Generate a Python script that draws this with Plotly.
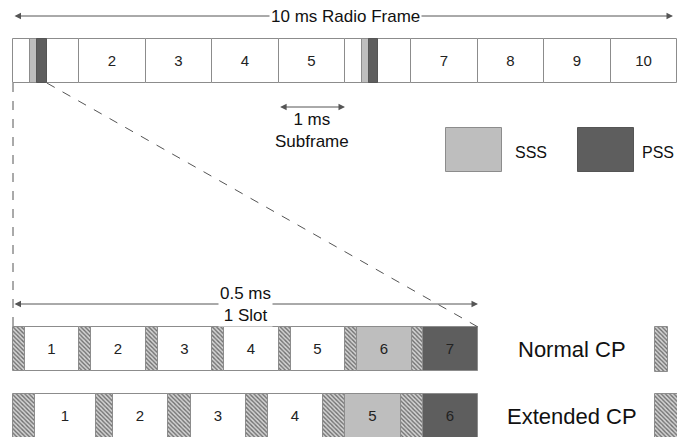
import plotly.graph_objects as go

# ---------------- data ----------------
subframe_start_ms = [0, 1, 2, 3, 4, 5, 6, 7, 8, 9]
subframe_len_ms = [1, 1, 1, 1, 1, 1, 1, 1, 1, 1]
subframe_labels = ["", "2", "3", "4", "5", "", "7", "8", "9", "10"]
sss_start_ms = [0.25, 5.25]
sss_len_ms = [0.11, 0.11]
pss_start_ms = [0.36, 5.36]
pss_len_ms = [0.15, 0.14]

normal_cp_start_us = [0, 71, 143, 214, 286, 357, 429]
normal_cp_len_us = [13, 13, 13, 13, 13, 13, 12]
normal_sym_end_us = [71, 143, 214, 286, 357, 429, 500]
normal_labels = ["1", "2", "3", "4", "5", "6", "7"]
normal_kind = ["data", "data", "data", "data", "data", "sss", "pss"]

ext_cp_start_us = [0, 89, 167, 250, 333, 417]
ext_cp_len_us = [24, 18, 24, 24, 24, 24]
ext_sym_end_us = [89, 167, 250, 333, 417, 500]
ext_labels = ["1", "2", "3", "4", "5", "6"]
ext_kind = ["data", "data", "data", "data", "sss", "pss"]

legend_labels = ["SSS", "PSS"]
legend_start_ms = [6.52, 8.51]
legend_len_ms = [0.84, 0.84]

# ---------------- style ----------------
FONT = "Liberation Sans, Arial, sans-serif"
EDGE = "#8c8c8c"
SSS_C = "#bebebe"
PSS_C = "#5e5e5e"
FILL = {"data": "white", "sss": SSS_C, "pss": PSS_C}
XR1 = [-13 / 66.4, 664 / 66.4]          # ms axis
XR2 = [-13 / 0.93, 664 / 0.93]          # microsecond axis
Y_TOP, Y_LEG, Y_NORM, Y_EXT = 61, 150, 349, 416
H = 44

def p1(v):
    return (v - XR1[0]) / (XR1[1] - XR1[0])

def p2(v):
    return (v - XR2[0]) / (XR2[1] - XR2[0])

fig = go.Figure()

def hbar(starts, lens, y, colors, xaxis="x", texts=None, pattern=None, lc=EDGE, width=H):
    fig.add_trace(go.Bar(
        orientation="h", base=starts, x=lens, y=[y] * len(starts), width=width,
        xaxis=xaxis, yaxis="y",
        marker=dict(color=colors, line=dict(color=lc, width=1),
                    pattern=pattern if pattern else dict(shape="")),
        text=texts, textposition="inside" if texts else "none",
        insidetextanchor="middle", textangle=0,
        textfont=dict(family=FONT, size=15, color="#222"),
        hoverinfo="skip", showlegend=False))

HATCH = dict(shape="\\", fgcolor="#6f6f6f", bgcolor="#d4d4d4", size=3, solidity=0.45, fillmode="replace")

# top radio frame
hbar(subframe_start_ms, subframe_len_ms, Y_TOP, "white", texts=subframe_labels)
hbar(sss_start_ms, sss_len_ms, Y_TOP, SSS_C)
hbar(pss_start_ms, pss_len_ms, Y_TOP, PSS_C, lc="#555")
# legend boxes
hbar(legend_start_ms[:1], legend_len_ms[:1], Y_LEG, SSS_C)
hbar(legend_start_ms[1:], legend_len_ms[1:], Y_LEG, PSS_C, lc="#555")

# normal CP slot
n_sym_start = [s + l for s, l in zip(normal_cp_start_us, normal_cp_len_us)]
n_sym_len = [e - s for s, e in zip(n_sym_start, normal_sym_end_us)]
hbar(n_sym_start, n_sym_len, Y_NORM, [FILL[k] for k in normal_kind], xaxis="x2",
     texts=normal_labels)
hbar(normal_cp_start_us, normal_cp_len_us, Y_NORM, "#d4d4d4", xaxis="x2", pattern=HATCH)

# extended CP slot
e_sym_start = [s + l for s, l in zip(ext_cp_start_us, ext_cp_len_us)]
e_sym_len = [e - s for s, e in zip(e_sym_start, ext_sym_end_us)]
hbar(e_sym_start, e_sym_len, Y_EXT, [FILL[k] for k in ext_kind], xaxis="x2",
     texts=ext_labels)
hbar(ext_cp_start_us, ext_cp_len_us, Y_EXT, "#d4d4d4", xaxis="x2", pattern=HATCH)

# CP legend swatches at right edge
hbar([690], [14], Y_NORM, "#d4d4d4", xaxis="x2", pattern=HATCH, width=45)
hbar([690], [40], Y_EXT, "#d4d4d4", xaxis="x2", pattern=HATCH, width=44)

# dashed zoom lines
fig.add_shape(type="line", xref="paper", yref="y", x0=p1(0), x1=p1(0), y0=Y_TOP + H / 2, y1=Y_NORM - H / 2,
              line=dict(color="#555", width=1, dash="dash"))
fig.add_shape(type="line", xref="paper", yref="y", x0=p1(pss_start_ms[0] + pss_len_ms[0]), y0=Y_TOP + H / 2,
              x1=p2(normal_sym_end_us[-1]), y1=Y_NORM - H / 2,
              line=dict(color="#555", width=1, dash="dash"))

def arrow(x0, x1, y, xref):
    fig.add_annotation(x=x1, y=y, ax=x0, ay=y, xref=xref, yref="y", axref=xref, ayref="y",
                       text="", showarrow=True, arrowside="end+start", arrowhead=2,
                       arrowsize=1.3, arrowwidth=1, arrowcolor="#555")

def label(x, y, txt, xref, size=15, anchor="center", bg=None):
    fig.add_annotation(x=x, y=y, xref=xref, yref="y", text=txt, showarrow=False,
                       xanchor=anchor, yanchor="middle", bgcolor=bg,
                       font=dict(family=FONT, size=size, color="#111"))

arrow(0, 9.94, 16, "x")
label(5, 16, "10 ms Radio Frame", "x", size=17, bg="white")
arrow(4, 5, 107, "x")
label(4.5, 130, "1 ms<br>Subframe", "x", size=17)
label(7.53, 152, legend_labels[0], "x", size=16, anchor="left")
label(9.44, 152, legend_labels[1], "x", size=16, anchor="left")

arrow(0, 500, 304, "x2")
label(250, 304, "0.5 ms<br>1 Slot", "x2", size=17, bg="white")
label(601, Y_NORM, "Normal CP", "x2", size=22)
label(601, Y_EXT, "Extended CP", "x2", size=22)

fig.update_layout(
    width=677, height=437, autosize=False,
    margin=dict(l=0, r=0, t=0, b=0),
    paper_bgcolor="white", plot_bgcolor="white",
    barmode="overlay", bargap=0,
    xaxis=dict(range=XR1, visible=False, domain=[0, 1]),
    xaxis2=dict(range=XR2, visible=False, domain=[0, 1], overlaying="x"),
    yaxis=dict(range=[437, 0], visible=False),
    showlegend=False,
)

fig.write_html("out.html", config={"displayModeBar": False},
               post_script="document.body.style.margin='0';")
